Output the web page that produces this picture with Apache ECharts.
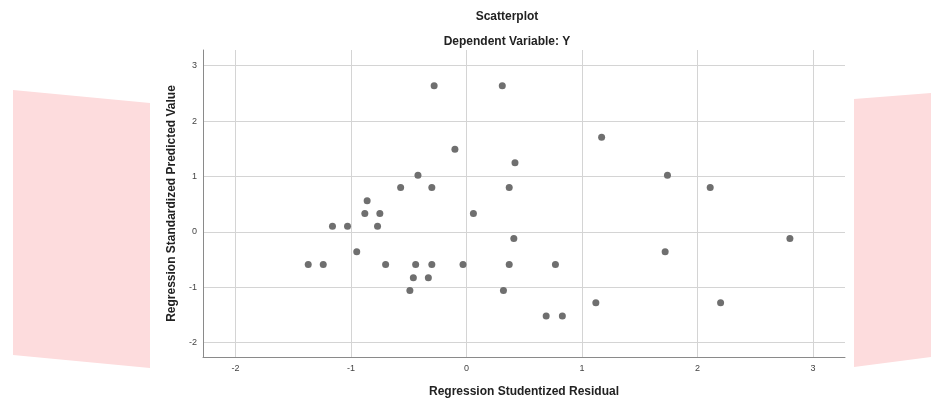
<!DOCTYPE html>
<html>
<head>
<meta charset="utf-8">
<script src="https://cdn.jsdelivr.net/npm/echarts@6/dist/echarts.min.js"></script>
<style>html,body{margin:0;padding:0;background:#fff;}#c{width:931px;height:400px;}</style>
</head>
<body>
<div id="c"></div>
<script>
var residuals = [-0.28, 0.31, -0.10, -0.42, -0.57, -0.30, -0.86, -0.88, -0.75, 0.06,
  -1.16, -1.03, -0.77, -0.95, -1.37, -1.24, -0.70, -0.44, -0.30, -0.03,
  -0.46, -0.33, -0.49, 1.17, 0.42, 0.37, 1.74, 2.11, 0.41, 2.80,
  1.72, 0.37, 0.77, 0.32, 1.12, 2.20, 0.69, 0.83];
var predicted = [2.64, 2.64, 1.49, 1.02, 0.80, 0.80, 0.56, 0.33, 0.33, 0.33,
  0.10, 0.10, 0.10, -0.36, -0.59, -0.59, -0.59, -0.59, -0.59, -0.59,
  -0.83, -0.83, -1.06, 1.71, 1.25, 0.80, 1.02, 0.80, -0.12, -0.12,
  -0.36, -0.59, -0.59, -1.06, -1.28, -1.28, -1.52, -1.52];
var xTicks = [-2, -1, 0, 1, 2, 3];
var yTicks = [-2, -1, 0, 1, 2, 3];

var points = residuals.map(function (v, i) { return [v, predicted[i]]; });
var FONT = '"Liberation Sans", Arial, sans-serif';

var chart = echarts.init(document.getElementById('c'), null, {renderer: 'canvas'});
function isTick(list, v) {
  for (var i = 0; i < list.length; i++) if (Math.abs(list[i] - v) < 1e-6) return true;
  return false;
}
chart.setOption({
  animation: false,
  backgroundColor: '#fff',
  title: [
    {text: 'Scatterplot', left: 502, top: 6, textAlign: 'center',
      textStyle: {fontFamily: FONT, fontSize: 12, fontWeight: 'bold', color: '#222'}},
    {text: 'Dependent Variable: Y', left: 502, top: 31, textAlign: 'center',
      textStyle: {fontFamily: FONT, fontSize: 12, fontWeight: 'bold', color: '#222'}}
  ],
  graphic: [
    {type: 'polygon', z: -10, shape: {points: [[13, 90], [150, 103], [150, 368], [13, 355]]},
      style: {fill: '#fddcdd'}},
    {type: 'polygon', z: -10, shape: {points: [[854, 99], [931, 93], [931, 357], [854, 367]]},
      style: {fill: '#fddcdd'}}
  ],
  grid: {left: 203, top: 50, right: 86, bottom: 43, containLabel: false, outerBoundsMode: 'none'},
  xAxis: {
    type: 'value', min: -2.281, max: 3.277,
    name: 'Regression Studentized Residual', nameLocation: 'middle', nameGap: 29,
    nameTextStyle: {fontFamily: FONT, fontSize: 12, fontWeight: 'bold', color: '#222'},
    axisLine: {show: true, onZero: false, lineStyle: {color: '#8a8a8a', width: 1}},
    axisTick: {show: false},
    axisLabel: {fontFamily: FONT, fontSize: 9, color: '#444', margin: 7,
      showMinLabel: false, showMaxLabel: false,
      formatter: function (v) { return isTick(xTicks, v) ? String(Math.round(v)) : ''; }},
    splitLine: {show: true, showMinLine: false, showMaxLine: false, lineStyle: {color: '#d4d4d4', width: 1}}
  },
  yAxis: {
    type: 'value', min: -2.26, max: 3.284,
    name: 'Regression Standardized Predicted Value', nameLocation: 'middle', nameGap: 23,
    nameTextStyle: {fontFamily: FONT, fontSize: 12, fontWeight: 'bold', color: '#222'},
    axisLine: {show: true, onZero: false, lineStyle: {color: '#8a8a8a', width: 1}},
    axisTick: {show: false},
    axisLabel: {fontFamily: FONT, fontSize: 9, color: '#444', margin: 6,
      showMinLabel: false, showMaxLabel: false,
      formatter: function (v) { return isTick(yTicks, v) ? String(Math.round(v)) : ''; }},
    splitLine: {show: true, showMinLine: false, showMaxLine: false, lineStyle: {color: '#d4d4d4', width: 1}}
  },
  series: [{
    type: 'scatter',
    data: points,
    symbol: 'circle',
    symbolSize: 7,
    itemStyle: {color: '#6f6f6f', opacity: 1},
    silent: true
  }]
});
</script>
</body>
</html>
